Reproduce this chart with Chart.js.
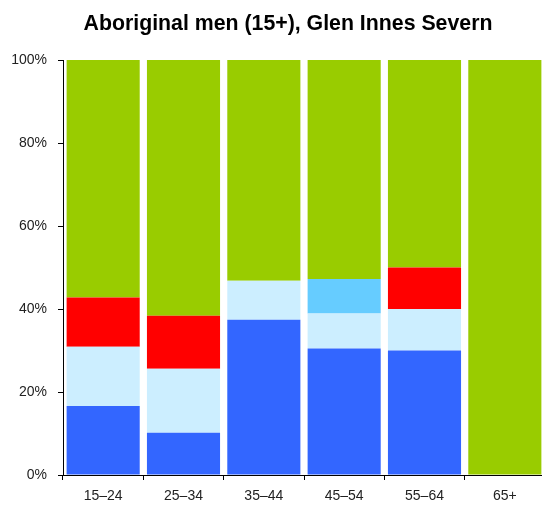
<!DOCTYPE html>
<html>
<head>
<meta charset="utf-8">
<script src="https://cdn.jsdelivr.net/npm/chart.js@4"></script>
<style>
  html, body { margin: 0; padding: 0; background: #fff; overflow: hidden; }
  #wrap { width: 576px; height: 506px; }
</style>
</head>
<body>
<div id="wrap"><canvas id="chart" width="576" height="506"></canvas></div>
<script>
const ageGroups = ['15–24', '25–34', '35–44', '45–54', '55–64', '65+'];
const yTickLabels = ['0%', '20%', '40%', '60%', '80%', '100%'];
const chartTitle = 'Aboriginal men (15+), Glen Innes Severn';

// percent of men in each age group, stacked bottom to top
const fullTime = [16.6, 10.2, 37.4, 30.5, 30.0, 0];
const partTime = [14.3, 15.4, 9.4, 8.4, 10.0, 0];
const awayFromWork = [0, 0, 0, 8.3, 0, 0];
const unemployed = [11.9, 12.8, 0, 0, 10.0, 0];
const notInLabourForce = [57.2, 61.6, 53.2, 52.8, 50.0, 100];

const ctx = document.getElementById('chart').getContext('2d');
Chart.defaults.font.family = '"Liberation Sans", Arial, sans-serif';
Chart.defaults.color = '#222';

function series(label, data, color) {
  return {
    label,
    data,
    backgroundColor: color,
    borderWidth: 0,
    barPercentage: 0.91,
    categoryPercentage: 1
  };
}

// the original chart is wider than the window (its right edge is cut off),
// so the title is centred on the full canvas, not on the padded area
const canvasTitle = {
  id: 'canvasTitle',
  afterDraw(chart) {
    const c = chart.ctx;
    c.save();
    c.font = 'bold 21.3px "Liberation Sans", Arial, sans-serif';
    c.fillStyle = '#000';
    c.textAlign = 'center';
    c.textBaseline = 'middle';
    c.fillText(chartTitle, chart.width / 2, 24);
    c.restore();
  }
};

new Chart(ctx, {
  type: 'bar',
  data: {
    labels: ageGroups,
    datasets: [
      series('Employed full-time', fullTime, '#3366ff'),
      series('Employed part-time', partTime, '#cceeff'),
      series('Employed, away from work', awayFromWork, '#66ccff'),
      series('Unemployed', unemployed, '#ff0000'),
      series('Not in the labour force', notInLabourForce, '#99cc00')
    ]
  },
  plugins: [canvasTitle],
  options: {
    responsive: false,
    animation: false,
    layout: { padding: { top: 60, right: 31 } },
    plugins: {
      legend: { display: false },
      tooltip: { enabled: false },
      title: { display: false }
    },
    scales: {
      x: {
        stacked: true,
        grid: { drawOnChartArea: false, tickLength: 5, color: '#000' },
        border: { color: '#000', width: 1 },
        ticks: { font: { size: 14 }, padding: 8, color: '#222' },
        afterFit: scale => { scale.height = 31; }
      },
      y: {
        stacked: true,
        min: 0,
        max: 100,
        grid: { drawOnChartArea: false, tickLength: 5, color: '#000' },
        border: { color: '#000', width: 1 },
        ticks: {
          stepSize: 20,
          font: { size: 14 },
          padding: 11,
          color: '#222',
          callback: (v, i) => yTickLabels[i]
        },
        afterFit: scale => { scale.width = 63; }
      }
    }
  }
});
</script>
</body>
</html>
